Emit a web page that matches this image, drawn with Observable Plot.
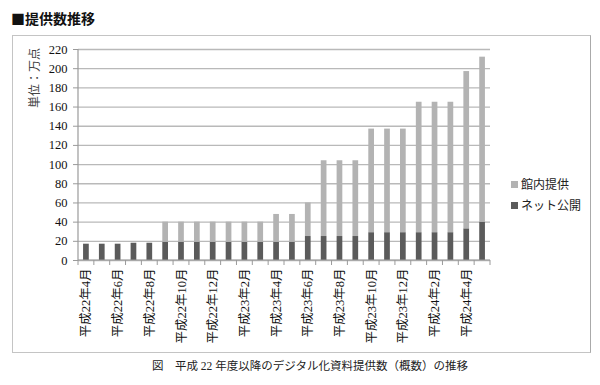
<!DOCTYPE html>
<html><head><meta charset="utf-8">
<script src="https://cdn.jsdelivr.net/npm/d3@7"></script>
<script src="https://cdn.jsdelivr.net/npm/@observablehq/plot@0.6"></script>
<style>
body{margin:0;background:#fff;}
#wrap{position:relative;width:600px;height:385px;font-family:"Liberation Serif","Noto Sans CJK JP",serif;color:#111;}
#title{position:absolute;left:11px;top:8px;font-family:"Noto Sans CJK JP",sans-serif;font-weight:bold;font-size:14px;line-height:20px;}
#box{position:absolute;left:12px;top:35px;width:577px;height:316px;border:1.5px solid #c4c4c4;border-right-color:#aaa;}
#chart{position:absolute;left:0;top:0;}
#ylab{position:absolute;left:5px;top:71px;width:60px;text-align:center;font-size:12px;line-height:14px;transform:rotate(-90deg);transform-origin:30px 7px;white-space:nowrap;color:#444;}
#legend{position:absolute;left:511px;top:173px;font-family:"Noto Sans CJK JP",sans-serif;font-size:12px;line-height:21px;color:#222;}
#legend .sw{display:inline-block;width:7px;height:7px;margin-right:3px;vertical-align:middle;position:relative;top:-1px;}
#cap{position:absolute;left:0;width:620px;top:357px;text-align:center;font-size:11.5px;line-height:18px;color:#222;}
</style></head><body>
<div id="wrap">
  <div id="box"></div>
  <div id="title">■提供数推移</div>
  <div id="chart"></div>
  <div id="ylab">単位：万点</div>
  <div id="legend"></div>
  <div id="cap">図　平成 22 年度以降のデジタル化資料提供数（概数）の推移</div>
</div>
<script>
const months = ["平成22年4月","平成22年5月","平成22年6月","平成22年7月","平成22年8月","平成22年9月","平成22年10月","平成22年11月","平成22年12月",
  "平成23年1月","平成23年2月","平成23年3月","平成23年4月","平成23年5月","平成23年6月","平成23年7月","平成23年8月","平成23年9月",
  "平成23年10月","平成23年11月","平成23年12月","平成24年1月","平成24年2月","平成24年3月","平成24年4月","平成24年5月"];
const netValues = [17,17,17,18,18,19,19,19,19,19,19,19,19,19,25,25,25,25,29,29,29,29,29,29,33,40];
const kannaiValues = [0,0,0,0,0,21,21,21,21,21,21,21,29,29,35,79,79,79,108,108,108,136,136,136,164,172];
const seriesNames = ["ネット公開","館内提供"];
const seriesColors = ["#5b5b5b","#b3b3b3"];
const yTicks = [0,20,40,60,80,100,120,140,160,180,200,220];
const xTickLabels = months.filter((d,i)=>i%2===0);

const data = [];
months.forEach((m,i)=>{
  data.push({month:m, series:seriesNames[0], value:netValues[i]});
  data.push({month:m, series:seriesNames[1], value:kannaiValues[i]});
});

const boundaryTicks = (index, scales, values, dim) => {
  const g = d3.create("svg:g");
  const x0 = dim.marginLeft, x1 = dim.width - dim.marginRight;
  const y0 = scales.y(0), yTop = scales.y(220);
  const n = months.length, step = (x1 - x0) / n;
  g.append("line").attr("x1",x0).attr("x2",x0).attr("y1",yTop).attr("y2",y0).attr("stroke","#9a9a9a").attr("stroke-width",1.2);
  g.append("line").attr("x1",x0).attr("x2",x1).attr("y1",y0).attr("y2",y0).attr("stroke","#9a9a9a").attr("stroke-width",1.2);
  for (let i = 0; i <= n; i++) {
    g.append("line").attr("x1",x0+i*step).attr("x2",x0+i*step).attr("y1",y0).attr("y2",y0+5).attr("stroke","#9a9a9a");
  }
  return g.node();
};

const chart = Plot.plot({
  width: 600, height: 385,
  marginLeft: 78, marginRight: 110, marginTop: 49, marginBottom: 125,
  style: {background: "transparent", fontFamily: '"Liberation Serif","Noto Sans CJK JP",serif', fontSize: "12px", color: "#111"},
  x: {domain: months, paddingInner: 0.64, paddingOuter: 0.32, round: false, label: null},
  y: {domain: [0, 220], label: null},
  color: {domain: seriesNames, range: seriesColors},
  marks: [
    Plot.gridY(yTicks, {stroke: "#b9b9b9", strokeOpacity: 1, strokeWidth: 1.3}),
    Plot.barY(data, {x: "month", y: "value", fill: "series"}),
    Plot.axisY({ticks: yTicks, tickSize: 5, tickPadding: 6, stroke: "#9a9a9a", fontSize: 12.5, label: null}),
    Plot.axisX({ticks: xTickLabels, tickSize: 0, tickRotate: -90, tickPadding: 8, fontSize: 12.5, label: null}),
    boundaryTicks
  ]
});
document.getElementById("chart").appendChild(chart);

const legend = document.getElementById("legend");
[1,0].forEach(i=>{
  const row = document.createElement("div");
  row.innerHTML = `<span class="sw" style="background:${seriesColors[i]}"></span>${seriesNames[i]}`;
  legend.appendChild(row);
});
</script>
</body></html>
